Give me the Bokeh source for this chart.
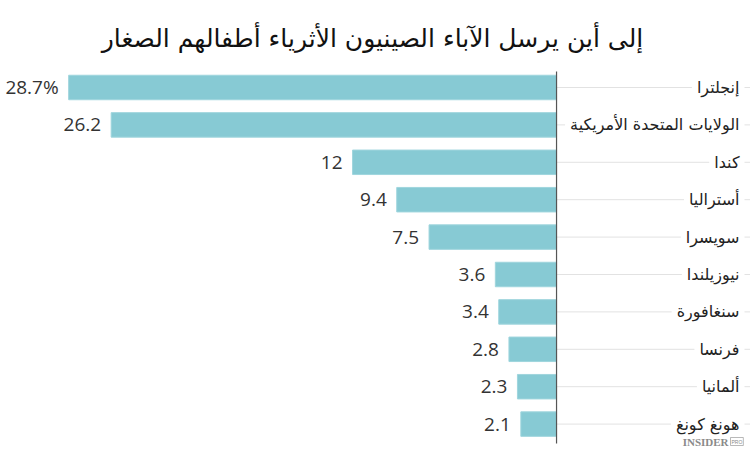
from bokeh.plotting import figure
from bokeh.models import Range1d, Label, ColumnDataSource
from bokeh.core.properties import value
from bokeh.embed import file_html
from bokeh.resources import INLINE

title_text = "إلى أين يرسل الآباء الصينيون الأثرياء أطفالهم الصغار"
countries = ["إنجلترا", "الولايات المتحدة الأمريكية", "كندا", "أستراليا", "سويسرا",
             "نيوزيلندا", "سنغافورة", "فرنسا", "ألمانيا", "هونغ كونغ"]
values = [28.7, 26.2, 12, 9.4, 7.5, 3.6, 3.4, 2.8, 2.3, 2.1]
value_labels = ["28.7%", "26.2", "12", "9.4", "7.5", "3.6", "3.4", "2.8", "2.3", "2.1"]

W, H = 750, 453
x_left, x_right = 32.71, -11.41
y_top, y_bottom = -2.326, 9.786

idx = list(range(len(countries)))
src = ColumnDataSource(dict(y=idx, v=values, lab=value_labels, c=countries,
                            zero=[0] * len(idx), rx=[x_right] * len(idx)))

p = figure(width=W, height=H, output_backend="svg", toolbar_location=None,
           x_range=Range1d(start=x_left, end=x_right),
           y_range=Range1d(start=y_bottom, end=y_top),
           min_border=0, min_border_left=0, min_border_right=0,
           min_border_top=0, min_border_bottom=0)
p.axis.visible = False
p.grid.visible = False
p.outline_line_color = None
p.background_fill_color = "white"
p.border_fill_color = "white"

# light guide lines from the axis to the labels
p.segment(x0="zero", y0="y", x1="rx", y1="y", source=src, line_color="#e2e2e2", line_width=1)

# bars
p.hbar(y="y", left="zero", right="v", height=0.655, source=src,
       fill_color="#87cad4", line_color="#9fd5dd", line_width=1)

# vertical axis line
p.segment(x0=[0], y0=[-0.43], x1=[0], y1=[9.52], line_color="#555555", line_width=1.2)

# value labels
p.text(x="v", y="y", text="lab", source=src, x_offset=-10, text_align="right",
       text_baseline="middle", text_font=value("Open Sans"), text_font_size="19px",
       text_color="#333333")

# country labels
p.text(x="rx", y="y", text="c", source=src, x_offset=-6, text_align="right",
       text_baseline="middle", text_font=value("DejaVu Sans"), text_font_size="16px",
       text_color="#222222", background_fill_color="white", padding=5)

p.add_layout(Label(x=372, y=415, x_units="screen", y_units="screen", text=title_text,
                   text_align="center", text_baseline="middle",
                   text_font="DejaVu Sans", text_font_size="25px", text_color="#111111"))

p.add_layout(Label(x=728, y=6, x_units="screen", y_units="screen", text="INSIDER",
                   text_align="right", text_baseline="bottom",
                   text_font="Liberation Serif", text_font_size="11px",
                   text_font_style="bold", text_color="#8a8a8a"))
p.add_layout(Label(x=730, y=8, x_units="screen", y_units="screen", text="PRO",
                   text_align="left", text_baseline="bottom",
                   text_font="Liberation Sans", text_font_size="5px",
                   text_color="#8a8a8a", border_line_color="#8a8a8a",
                   border_line_width=0.6, padding=1))

open("out.html", "w").write(file_html(p, INLINE))
